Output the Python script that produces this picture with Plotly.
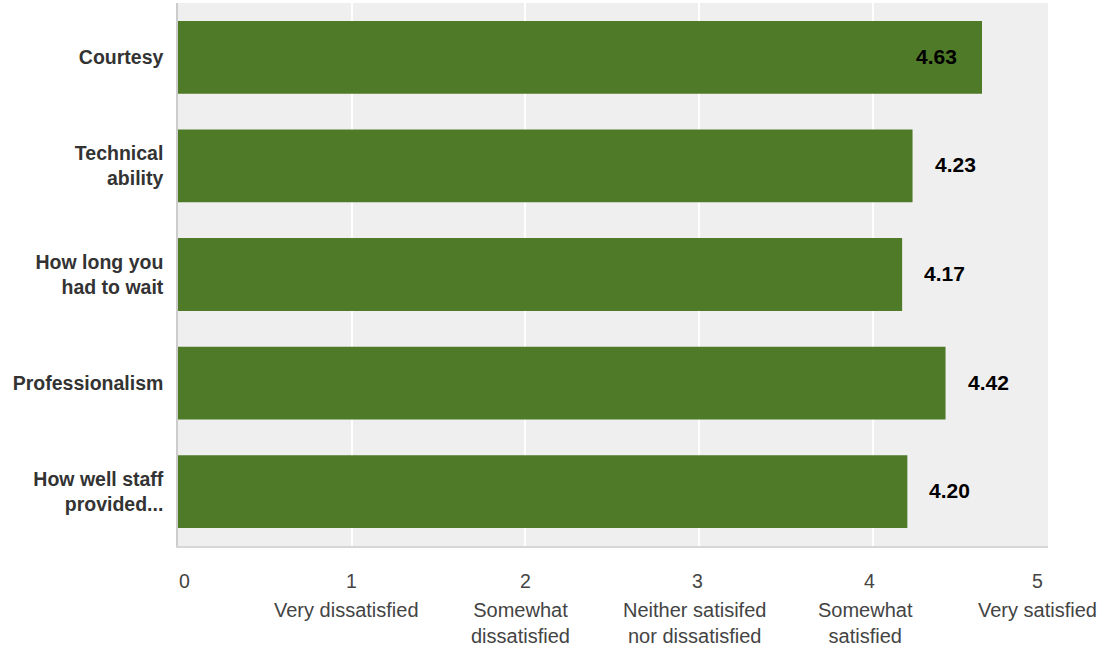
import plotly.graph_objects as go

categories = ["Courtesy", "Technical<br>ability", "How long you<br>had to wait", "Professionalism", "How well staff<br>provided..."]
scores = [4.63, 4.23, 4.17, 4.42, 4.20]
score_labels = ["4.63", "4.23", "4.17", "4.42", "4.20"]
tick_values = [0, 1, 2, 3, 4, 5]
tick_numbers = ["0", "1", "2", "3", "4", "5"]
scale_values = [1, 2, 3, 4, 5]
scale_labels = ["Very dissatisfied", "Somewhat<br>dissatisfied", "Neither satisifed<br>nor dissatisfied",
                "Somewhat<br>satisfied", "Very satisfied"]

FONT = "Liberation Sans, Arial, sans-serif"
GREEN = "#4f7a28"

fig = go.Figure(go.Bar(
    x=scores, y=categories, orientation="h",
    marker=dict(color=GREEN, line=dict(width=0)),
    hoverinfo="skip",
))

annotations = []
# value labels
for cat, v, lab in zip(categories, scores, score_labels):
    inside = v > 4.5
    annotations.append(dict(
        x=v, y=cat, xref="x", yref="y", text="<b>%s</b>" % lab, showarrow=False,
        xanchor="right" if inside else "left", xshift=-23 if inside else 20,
        yshift=1,
        font=dict(family=FONT, size=21, color="#000000"),
    ))
# numeric tick labels
num_shift = [6, 0, 0, -1, -3, -9]
for v, t, s in zip(tick_values, tick_numbers, num_shift):
    annotations.append(dict(
        x=v, y=0, xref="x", yref="paper", text=t, showarrow=False,
        xanchor="center", yanchor="middle", yshift=-35, xshift=s,
        font=dict(family=FONT, size=19.5, color="#444444"),
    ))
# descriptive scale labels
lab_shift = [-5, -5, -4, -7, -9]
for v, t, s in zip(scale_values, scale_labels, lab_shift):
    annotations.append(dict(
        x=v, y=0, xref="x", yref="paper", text=t, showarrow=False, align="center",
        xanchor="center", yanchor="top", yshift=-51, xshift=s,
        font=dict(family=FONT, size=20, color="#444444"),
    ))

fig.update_layout(
    width=1109, height=648,
    margin=dict(l=178, r=61, t=3, b=102),
    paper_bgcolor="white", plot_bgcolor="#efefef",
    bargap=0.33, showlegend=False,
    font=dict(family=FONT),
    annotations=annotations,
    xaxis=dict(range=[0, 5.01], tickvals=[1, 2, 3, 4], showticklabels=False,
               showgrid=True, gridcolor="white", gridwidth=2, zeroline=False,
               showline=True, linecolor="#d6d6d6", linewidth=2, fixedrange=True),
    yaxis=dict(autorange="reversed", showgrid=False, zeroline=False,
               showline=True, linecolor="#cccccc", linewidth=1.5,
               ticks="", ticklabelstandoff=9,
               tickfont=dict(family=FONT, size=19.5, color="#333333", weight="bold"),
               fixedrange=True),
)

fig.write_html("out.html")
